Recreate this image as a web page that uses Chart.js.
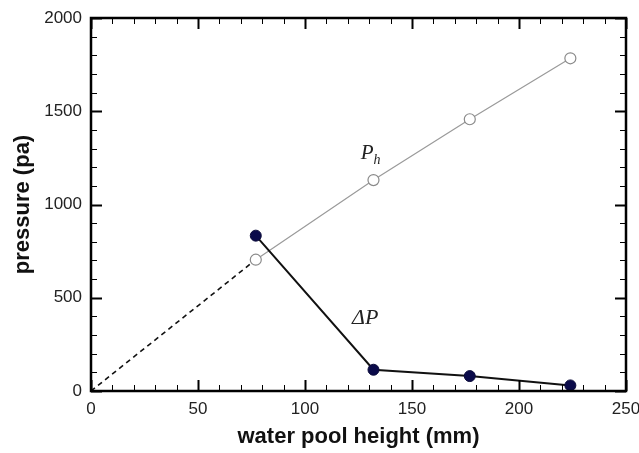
<!DOCTYPE html>
<html>
<head>
<meta charset="utf-8">
<script src="https://cdn.jsdelivr.net/npm/chart.js@4/dist/chart.umd.min.js"></script>
<style>
  html, body { margin: 0; padding: 0; background: #fff; }
  canvas { display: block; }
</style>
</head>
<body>
<canvas id="chart" width="639" height="453"></canvas>
<script>
// water pool height (mm)
const heights = [77, 132, 177, 224];
// hydrostatic pressure P_h (pa)
const ph = [704, 1131, 1457, 1784];
// pressure drop ΔP (pa)
const dp = [833, 114, 80, 30];
// dashed extrapolation of P_h back to the origin
const extrapX = [0, 77];
const extrapY = [0, 704];

const xTicks = [0, 50, 100, 150, 200, 250];
const yTicks = [0, 500, 1000, 1500, 2000];

const toPoints = (xs, ys) => xs.map((x, i) => ({ x: x, y: ys[i] }));

// frame + inward ticks on all four sides, plus the curve labels
const framePlugin = {
  id: "frame",
  afterDraw(chart) {
    const { ctx, chartArea: a, scales } = chart;
    const sx = scales.x, sy = scales.y;
    ctx.save();
    ctx.strokeStyle = "#000";

    for (let v = 0; v <= 250; v += 10) {
      const px = Math.round(sx.getPixelForValue(v)) + 0.5;
      const major = v % 50 === 0;
      const len = major ? 11 : 6;
      ctx.lineWidth = major ? 2 : 1;
      ctx.beginPath();
      ctx.moveTo(px, a.bottom); ctx.lineTo(px, a.bottom - len);
      ctx.moveTo(px, a.top); ctx.lineTo(px, a.top + len);
      ctx.stroke();
    }
    for (let v = 0; v <= 2000; v += 100) {
      const py = Math.round(sy.getPixelForValue(v)) + 0.5;
      const major = v % 500 === 0;
      const len = major ? 11 : 6;
      ctx.lineWidth = major ? 2 : 1;
      ctx.beginPath();
      ctx.moveTo(a.left, py); ctx.lineTo(a.left + len, py);
      ctx.moveTo(a.right, py); ctx.lineTo(a.right - len, py);
      ctx.stroke();
    }

    ctx.lineWidth = 2.5;
    ctx.strokeRect(a.left, a.top, a.right - a.left, a.bottom - a.top);

    // curve labels
    ctx.fillStyle = "#222";
    ctx.textBaseline = "alphabetic";
    ctx.textAlign = "left";
    let x = sx.getPixelForValue(126), y = sy.getPixelForValue(1244);
    ctx.font = "italic 21px 'Liberation Serif', 'DejaVu Serif', serif";
    ctx.fillText("P", x, y);
    const w = ctx.measureText("P").width;
    ctx.font = "italic 14px 'Liberation Serif', 'DejaVu Serif', serif";
    ctx.fillText("h", x + w, y + 5);

    x = sx.getPixelForValue(122); y = sy.getPixelForValue(360);
    ctx.font = "italic 22px 'Liberation Serif', 'DejaVu Serif', serif";
    ctx.fillText("\u0394P", x, y);
    ctx.restore();
  }
};

const tickFont = { family: "'Liberation Sans', Arial, sans-serif", size: 17 };
const titleFont = { family: "'Liberation Sans', Arial, sans-serif", size: 22, weight: "bold" };

new Chart(document.getElementById("chart"), {
  type: "scatter",
  data: {
    datasets: [
      {
        label: "dP",
        data: toPoints(heights, dp),
        showLine: true,
        borderColor: "#111",
        borderWidth: 2,
        pointRadius: 5.5,
        pointBackgroundColor: "#0b0b4a",
        pointBorderColor: "#0b0b3a",
        pointBorderWidth: 1,
      },
      {
        label: "Ph",
        data: toPoints(heights, ph),
        showLine: true,
        borderColor: "#9a9a9a",
        borderWidth: 1.2,
        pointRadius: 5.5,
        pointBackgroundColor: "#fff",
        pointBorderColor: "#8a8a8a",
        pointBorderWidth: 1.2,
      },
      {
        label: "extrapolation",
        data: toPoints(extrapX, extrapY),
        showLine: true,
        borderColor: "#111",
        borderWidth: 1.6,
        borderDash: [5, 4],
        pointRadius: 0,
      },
    ],
  },
  options: {
    responsive: false,
    animation: false,
    clip: false,
    layout: { padding: { top: 18, right: 13, left: 0, bottom: 0 } },
    plugins: { legend: { display: false }, tooltip: { enabled: false } },
    scales: {
      x: {
        type: "linear",
        min: 0,
        max: 250,
        afterBuildTicks: (s) => { s.ticks = xTicks.map((v) => ({ value: v })); },
        afterFit: (s) => { s.height = 62; s.paddingLeft = 0; s.paddingRight = 0; },
        grid: { display: false, drawTicks: false },
        border: { display: false },
        ticks: { padding: 8, color: "#222", font: tickFont, callback: (v) => String(v) },
        title: {
          display: true,
          text: "water pool height (mm)",
          color: "#111",
          padding: { top: 0, bottom: 3 },
          font: titleFont,
        },
      },
      y: {
        type: "linear",
        min: 0,
        max: 2000,
        afterBuildTicks: (s) => { s.ticks = yTicks.map((v) => ({ value: v })); },
        afterFit: (s) => { s.width = 91; s.paddingTop = 0; s.paddingBottom = 0; },
        grid: { display: false, drawTicks: false },
        border: { display: false },
        ticks: { padding: 9, color: "#222", font: tickFont, callback: (v) => String(v) },
        title: {
          display: true,
          text: "pressure (pa)",
          color: "#111",
          padding: { top: 10, bottom: 0 },
          font: titleFont,
        },
      },
    },
  },
  plugins: [framePlugin],
});
</script>
</body>
</html>
